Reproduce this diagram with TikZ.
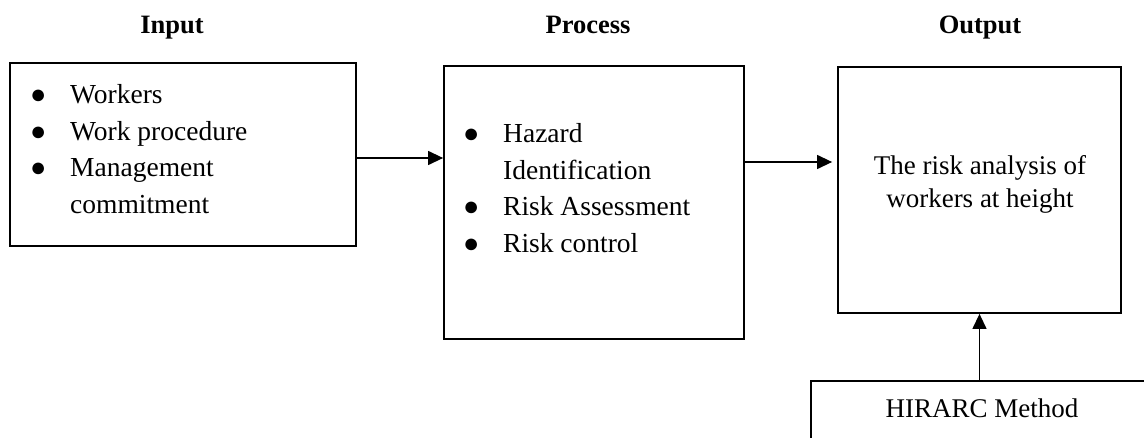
\documentclass[tikz,border=0pt]{standalone}
\usepackage{fontspec}
\setmainfont{Liberation Serif}
\usepackage{tikz}
\usetikzlibrary{arrows.meta, positioning, calc}
\newcommand{\bul}{\makebox[40pt][l]{\fontsize{27}{27}\selectfont ●}}

\begin{document}
\begin{tikzpicture}[
    x=1pt, y=-1pt,
    box/.style={draw, line width=1.8pt, inner sep=0pt},
    heading/.style={anchor=base, font=\fontsize{26.5}{30}\selectfont\bfseries},
    items/.style={align=left, inner sep=0pt, font=\fontsize{27.5}{36.7}\selectfont},
    flow/.style={-{Triangle[length=15pt, width=14pt]}, line width=1.3pt},
  ]
  \useasboundingbox (0,0) rectangle (1144,438);
  \clip (0,0) rectangle (1144,438);

  % column headings
  \node[heading] (inputhead) at (172,34) {Input};
  \node[heading] (processhead) at (588,34) {Process};
  \node[heading] (outputhead) at (980,34) {Output};

  % boxes
  \node[box, minimum width=346pt, minimum height=183pt] (input) at (183,154.5) {};
  \node[box, minimum width=300pt, minimum height=273pt] (process) at (594,202.5) {};
  \node[box, minimum width=283pt, minimum height=246pt] (output) at (979.5,190) {};
  \node[box, minimum width=342pt, minimum height=140pt, anchor=north]
    (hirarc) at (982,380) {};

  % box contents
  \node[items, anchor=west] (inputlist) at (30,149)
    {\bul Workers\\ \bul Work procedure\\ \bul Management\\
     \hspace*{40pt}commitment};
  \node[items, anchor=west] (processlist) at (463,188)
    {\bul Hazard\\ \hspace*{40pt}Identification\\ \bul Risk Assessment\\
     \bul Risk control};
  \node[align=center, font=\fontsize{27}{33}\selectfont] (outputtext) at (980,184)
    {The risk analysis of\\workers at height};
  \node[font=\fontsize{27}{30}\selectfont] (hirarctext) at (982,408)
    {HIRARC Method};

  % connectors
  \draw[flow] ([yshift=-3.5pt]input.east) -- ([yshift=-3.5pt]input.east -| process.west);
  \draw[flow] ([yshift=40.5pt]process.east)
    -- ([yshift=40.5pt, xshift=-5pt]process.east -| output.west);
  \draw[flow] (hirarc.north -| output.south) -- (output.south);
\end{tikzpicture}
\end{document}
